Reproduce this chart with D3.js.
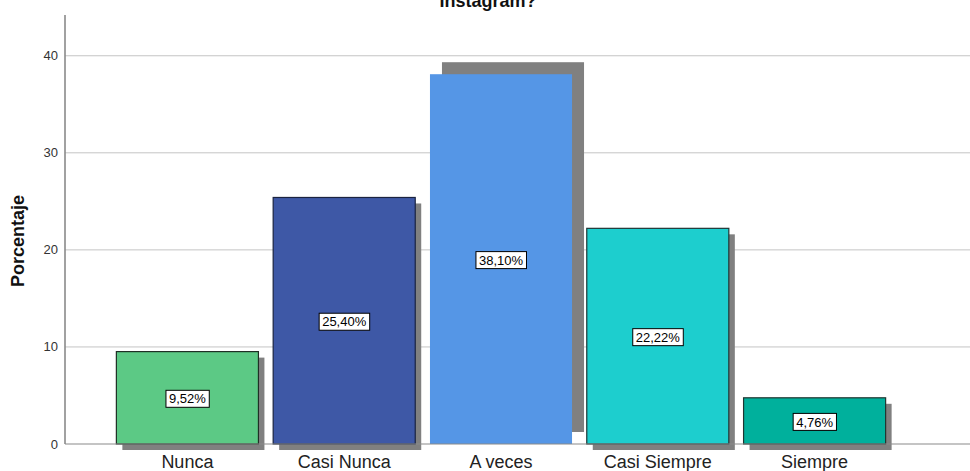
<!DOCTYPE html>
<html><head><meta charset="utf-8">
<script src="https://cdn.jsdelivr.net/npm/d3@7"></script>
<style>body{margin:0;background:#fff}svg{display:block}</style>
</head><body>
<svg id="c" width="970" height="471"></svg>
<script>
const categories = ["Nunca", "Casi Nunca", "A veces", "Casi Siempre", "Siempre"];
const values = [9.52, 25.40, 38.10, 22.22, 4.76];
const valueLabels = ["9,52%", "25,40%", "38,10%", "22,22%", "4,76%"];
const yTicks = [0, 10, 20, 30, 40];
const title = "Instagram?";
const yTitle = "Porcentaje";

const colors = ["#5cc985", "#3e58a6", "#5596e6", "#1dcece", "#00b09c"];
const strokes = ["#1f2f25", "#1a2340", null, "#1f3535", "#1f3530"];
const shadowDx = [6, 6, 12, 6, 6];
const shadowDy = [6, 6, -12, 6, 6];

const svg = d3.select("#c");
const x = d3.scaleBand().domain(categories).range([109, 893]).paddingInner(0.094).paddingOuter(0.047);
const y = d3.scaleLinear().domain([0, 44.2]).range([444, 15]);

// gridlines
svg.append("g").selectAll("line").data(yTicks.filter(d => d > 0)).join("line")
  .attr("x1", 65).attr("x2", 970)
  .attr("y1", d => y(d)).attr("y2", d => y(d))
  .attr("stroke", "#c4c4c4").attr("stroke-width", 1);

// y tick labels
svg.append("g").selectAll("text").data(yTicks).join("text")
  .attr("x", 58).attr("y", d => y(d)).attr("dy", "0.35em")
  .attr("text-anchor", "end").attr("font-family", "Arial, 'Liberation Sans', sans-serif")
  .attr("font-size", 13).attr("fill", "#333").text(d => d);

const data = categories.map((c, i) => ({c, v: values[i], i}));

// shadows
svg.append("g").selectAll("rect").data(data).join("rect")
  .attr("x", d => x(d.c) + shadowDx[d.i])
  .attr("y", d => y(d.v) + shadowDy[d.i])
  .attr("width", x.bandwidth())
  .attr("height", d => y(0) - y(d.v))
  .attr("fill", "#808080");

// bars
svg.append("g").selectAll("rect").data(data).join("rect")
  .attr("x", d => x(d.c))
  .attr("y", d => y(d.v))
  .attr("width", x.bandwidth())
  .attr("height", d => y(0) - y(d.v))
  .attr("fill", d => colors[d.i])
  .attr("stroke", d => strokes[d.i] || "none")
  .attr("stroke-width", 1.2);

// axes lines
svg.append("line").attr("x1", 65).attr("x2", 970).attr("y1", y(0)).attr("y2", y(0))
  .attr("stroke", "#8a8a8a").attr("stroke-width", 1.2);
svg.append("line").attr("x1", 65).attr("x2", 65).attr("y1", 15).attr("y2", y(0))
  .attr("stroke", "#8a8a8a").attr("stroke-width", 1.6);

// value labels
const lg = svg.append("g").selectAll("g").data(data).join("g")
  .attr("transform", d => `translate(${x(d.c) + x.bandwidth()/2},${(y(d.v) + y(0))/2 + 1})`);
lg.append("text").attr("text-anchor", "middle").attr("dy", "0.36em")
  .attr("font-family", "Arial, 'Liberation Sans', sans-serif").attr("font-size", 13)
  .attr("fill", "#000").text(d => valueLabels[d.i])
  .each(function() {
    const b = this.getBBox();
    d3.select(this.parentNode).insert("rect", "text")
      .attr("x", b.x - 3).attr("y", -8.5).attr("width", b.width + 6).attr("height", 17)
      .attr("fill", "#fff").attr("stroke", "#000").attr("stroke-width", 1);
  });

// x labels
svg.append("g").selectAll("text").data(categories).join("text")
  .attr("x", d => x(d) + x.bandwidth()/2).attr("y", 468)
  .attr("text-anchor", "middle").attr("font-family", "Arial, 'Liberation Sans', sans-serif")
  .attr("font-size", 18).attr("fill", "#222").text(d => d);

// y title
svg.append("text").attr("transform", "translate(24,241) rotate(-90)")
  .attr("text-anchor", "middle").attr("font-family", "Arial, 'Liberation Sans', sans-serif")
  .attr("font-size", 18).attr("font-weight", "bold").attr("fill", "#111").text(yTitle);

// title (cut off at top, as in the reference)
svg.append("text").attr("x", 488).attr("y", 6.5)
  .attr("text-anchor", "middle").attr("font-family", "Arial, 'Liberation Sans', sans-serif")
  .attr("font-size", 18).attr("font-weight", "bold").attr("fill", "#111").text(title);
</script>
</body></html>
